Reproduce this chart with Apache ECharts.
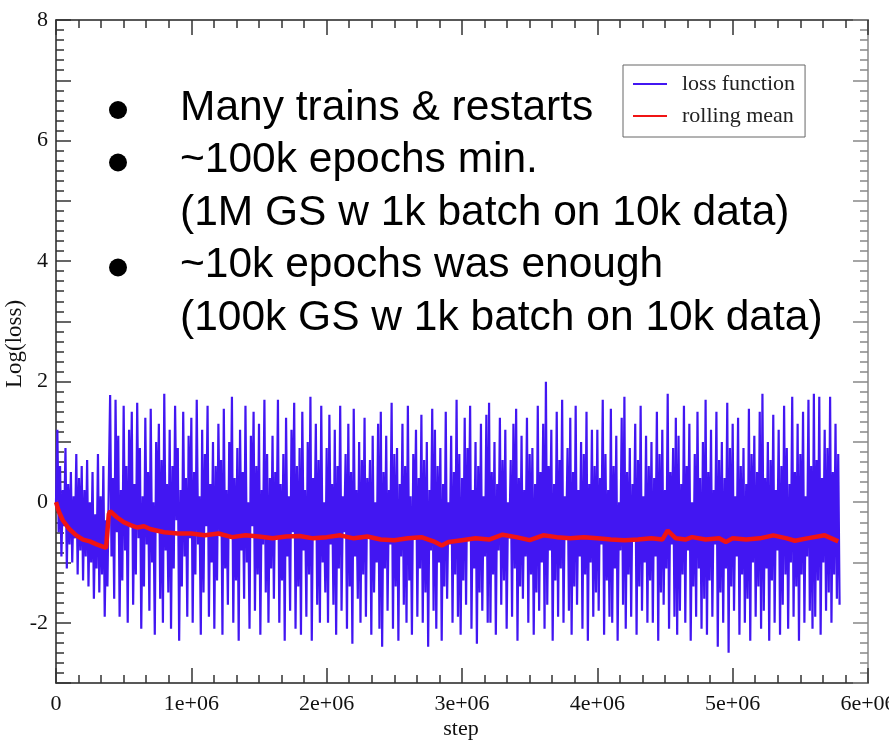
<!DOCTYPE html>
<html>
<head>
<meta charset="utf-8">
<script src="https://cdn.jsdelivr.net/npm/echarts@6/dist/echarts.min.js"></script>
<style>
html,body{margin:0;padding:0;background:#fff;overflow:hidden;}
#chart{width:889px;height:740px;}
</style>
</head>
<body>
<div id="chart"></div>
<script>
// ---- data ----
const lossStepSize = 10000; // steps between consecutive loss samples
const lossValues = [
  0.0, 1.2, -0.5, 0.6, -0.9, 0.2, -0.4, 0.9, -1.1, 0.3, -0.7, 0.5, -1.0, 0.1, -0.6, 0.8, -1.2, 0.4, -0.8, 0.6,
  -1.3, 0.2, -0.9, 0.7, -1.4, 0.0, -1.0, 0.5, -1.6, -0.2, -1.1, 0.8, -1.5, 0.1, -1.2, 0.6, -1.9, -0.3, -1.4, 0.3,
  1.78, -0.9, 0.4, -1.6, 1.7, -0.5, 1.1, -1.9, 0.2, -1.3, 1.6, -0.8, 0.6, -2.0, 1.2, -0.4, 1.5, -1.7, 0.3, -1.2,
  1.65, -0.6, 0.9, -2.1, 0.1, -1.4, 1.4, -0.7, 0.5, -1.8, 1.55, -1.0, 0.0, -2.2, 1.0, -0.5, 1.3, -1.6, 0.7, -2.0,
  1.8, -0.8, 0.3, -1.5, 1.2, -2.1, 0.6, -1.1, 1.6, -0.3, 0.9, -2.3, 0.2, -1.4, 1.5, -0.9, 0.4, -1.9, 1.1, -0.6,
  1.4, -2.0, 0.5, -1.2, 1.7, -0.7, 0.1, -2.2, 1.2, -1.5, 0.8, -0.4, 1.6, -1.9, 0.3, -1.0, 1.0, -2.1, 0.6, -1.3,
  1.3, -0.5, 0.7, -2.2, 1.55, -1.1, 0.2, -1.7, 1.0, -0.6, 1.75, -2.0, 0.4, -1.3, 0.9, -2.3, 1.2, -0.8, 0.5, -1.6,
  1.6, -1.0, 0.0, -2.1, 1.1, -0.4, 1.5, -1.8, 0.6, -1.2, 1.3, -2.2, 0.2, -0.7, 1.7, -1.5, 0.8, -2.0, 0.4, -1.1,
  1.1, -1.6, 0.5, -0.6, 1.7, -2.0, 0.3, -1.3, 0.8, -2.3, 1.4, -0.9, 0.1, -1.8, 1.2, -0.5, 1.65, -2.1, 0.6, -1.4,
  0.9, -2.2, 1.5, -0.8, 0.2, -1.9, 1.0, -1.2, 1.75, -2.3, 0.4, -0.6, 1.3, -1.7, 0.7, -2.0, 1.6, -1.0, 0.0, -1.5,
  0.9, -2.0, 1.45, -0.7, 0.3, -1.7, 1.2, -2.2, 0.6, -1.1, 1.6, -1.8, 0.1, -0.5, 0.8, -2.1, 1.3, -1.4, 0.5, -2.35,
  1.55, -0.9, 0.2, -1.6, 1.0, -2.0, 0.7, -1.2, 1.4, -1.9, 0.4, -0.6, 0.7, -2.2, 1.1, -1.5, 0.0, -1.0, 1.3, -2.1,
  1.5, -2.4, 0.5, -1.1, 1.1, -1.8, 0.2, -0.7, 1.65, -2.1, 0.8, -1.4, 0.9, -2.3, 0.3, -0.9, 1.3, -1.7, 0.6, -2.0,
  1.6, -1.3, 0.1, -2.2, 0.8, -0.6, 1.2, -1.9, 0.4, -1.1, 1.45, -2.0, 0.7, -1.5, 1.0, -2.4, 0.2, -0.8, 1.55, -1.8,
  1.2, -2.1, 0.6, -1.0, 0.9, -2.3, 0.3, -1.4, 1.5, -1.6, 0.0, -0.7, 1.1, -2.0, 0.5, -1.2, 1.7, -1.9, 0.8, -2.2,
  0.4, -1.3, 1.4, -1.7, 0.9, -0.6, 1.6, -2.1, 0.2, -1.1, 1.0, -2.35, 0.6, -1.5, 1.3, -1.8, 0.1, -0.9, 1.45, -2.0,
  1.65, -2.0, 0.5, -1.2, 1.0, -2.2, 0.3, -0.8, 1.4, -1.7, 0.7, -1.3, 1.2, -2.1, 0.0, -0.6, 0.7, -1.9, 1.3, -1.1,
  1.55, -2.3, 0.4, -1.4, 1.1, -1.6, 0.2, -0.9, 1.4, -2.0, 0.8, -1.2, 0.9, -2.2, 0.3, -1.5, 1.6, -1.8, 0.5, -1.0,
  1.3, -2.1, 2.0, -1.7, 0.6, -0.8, 1.2, -2.3, 0.3, -1.3, 1.5, -1.9, 0.7, -1.1, 1.7, -2.0, 0.1, -0.6, 0.9, -1.8,
  1.4, -2.2, 0.5, -1.4, 1.6, -1.7, 0.2, -0.9, 1.0, -2.1, 0.8, -1.2, 1.5, -2.3, 0.3, -1.0, 1.2, -1.9, 0.6, -1.5,
  1.2, -1.8, 0.4, -0.7, 1.7, -2.2, 0.8, -1.3, 0.2, -1.9, 1.55, -2.0, 0.6, -1.1, 1.1, -2.3, 0.0, -0.8, 1.4, -1.7,
  1.75, -2.1, 0.5, -1.2, 0.9, -1.9, 0.3, -0.6, 1.3, -2.2, 0.7, -1.4, 1.6, -1.8, 0.1, -1.0, 1.1, -2.0, 0.6, -1.3,
  1.0, -2.0, 0.4, -0.9, 1.5, -2.3, 0.8, -1.5, 1.2, -1.7, 0.2, -1.1, 1.8, -2.1, 0.5, -0.7, 0.9, -1.9, 1.4, -2.2,
  1.1, -1.8, 0.3, -1.2, 1.6, -2.0, 0.6, -0.8, 1.3, -2.3, 0.0, -1.4, 0.8, -1.9, 1.5, -1.1, 0.4, -2.1, 1.0, -1.6,
  1.7, -2.2, 0.5, -1.3, 1.2, -1.9, 0.2, -0.7, 1.5, -2.4, 0.7, -1.5, 1.0, -2.0, 0.4, -1.1, 1.65, -2.5, 0.9, -1.4,
  1.3, -1.8, 0.1, -0.9, 1.4, -2.2, 0.6, -1.2, 0.9, -2.0, 0.3, -1.6, 1.55, -2.3, 0.8, -1.0, 1.1, -1.9, 0.5, -1.4,
  1.5, -2.1, 1.8, -1.8, 0.4, -1.1, 1.0, -2.3, 0.7, -1.3, 1.45, -2.0, 0.2, -0.8, 1.2, -2.2, 0.6, -1.7, 1.6, -1.2,
  0.9, -2.1, 0.3, -1.0, 1.75, -1.9, 0.5, -1.4, 1.3, -2.3, 0.8, -1.2, 1.5, -2.0, 0.1, -0.9, 1.7, -1.8, 0.6, -2.1,
  1.8, -1.9, 0.7, -1.3, 1.75, -2.2, 0.4, -1.0, 1.2, -1.8, 0.9, -1.5, 1.75, -2.0, 0.5, -1.2, 1.3, -1.6, 0.8, -1.7
];

const meanSteps = [
  0, 20000, 50000, 100000, 150000, 200000, 250000, 300000, 350000, 370000, 390000, 400000,
  450000, 500000, 550000, 600000, 650000, 700000, 800000, 900000, 1000000, 1100000, 1200000,
  1300000, 1400000, 1500000, 1600000, 1700000, 1800000, 1900000, 2000000, 2100000, 2200000,
  2300000, 2400000, 2500000, 2600000, 2700000, 2800000, 2850000, 2900000, 3000000, 3100000,
  3200000, 3300000, 3400000, 3500000, 3600000, 3700000, 3800000, 3900000, 4000000, 4100000,
  4200000, 4300000, 4400000, 4480000, 4520000, 4580000, 4650000, 4700000, 4800000, 4900000,
  4950000, 5000000, 5100000, 5200000, 5300000, 5400000, 5460000, 5550000, 5680000, 5780000
];
const meanValues = [
  0.0, -0.15, -0.3, -0.45, -0.55, -0.62, -0.65, -0.7, -0.74, -0.76, -0.2, -0.15,
  -0.25, -0.33, -0.38, -0.42, -0.4, -0.45, -0.5, -0.52, -0.52, -0.55, -0.52,
  -0.58, -0.55, -0.57, -0.6, -0.57, -0.56, -0.6, -0.58, -0.55, -0.6,
  -0.57, -0.62, -0.63, -0.6, -0.58, -0.66, -0.72, -0.66, -0.63, -0.6,
  -0.62, -0.54, -0.58, -0.63, -0.55, -0.58, -0.6, -0.58, -0.6, -0.62,
  -0.63, -0.62, -0.6, -0.62, -0.47, -0.6, -0.62, -0.58, -0.62, -0.6,
  -0.66, -0.6, -0.62, -0.6, -0.55, -0.6, -0.64, -0.6, -0.55, -0.65
];

const xTickLabels = ['0', '1e+06', '2e+06', '3e+06', '4e+06', '5e+06', '6e+06'];
const yTickLabels = ['-2', '0', '2', '4', '6', '8'];
const seriesNames = ['loss function', 'rolling mean'];
const bulletLines = [
  'Many trains & restarts',
  '~100k epochs min.',
  '(1M GS w 1k batch on 10k data)',
  '~10k epochs was enough',
  '(100k GS w 1k batch on 10k data)'
];
const bulletFlags = [true, true, false, true, false];

// ---- build ----
const lossData = lossValues.map((v, i) => [i * lossStepSize, v]);
const meanData = meanSteps.map((s, i) => [s, meanValues[i]]);

const serif = '"Liberation Serif", "DejaVu Serif", serif';
const sans = '"Liberation Sans", Arial, sans-serif';

function xLabel(v) {
  const idx = Math.round(v / 1000000);
  return xTickLabels[idx] !== undefined ? xTickLabels[idx] : '';
}
function yLabel(v) {
  const s = String(v);
  return yTickLabels.indexOf(s) >= 0 ? s : '';
}

const axisCommon = {
  axisLine: { show: true, onZero: false, lineStyle: { color: '#222', width: 1.5 } },
  axisTick: { show: true, inside: true, length: 15, lineStyle: { color: '#333', width: 1.5 } },
  minorTick: { show: true, splitNumber: 6, length: 8, lineStyle: { color: '#333', width: 1.5 } },
  splitLine: { show: false }
};

const lineHeight = 52.5;
const firstCenter = 108;
const graphic = [];
bulletLines.forEach((t, i) => {
  const cy = firstCenter + i * lineHeight;
  graphic.push({
    type: 'text', x: 180, y: cy, z: 100,
    style: { text: t, font: '42.5px ' + sans, fill: '#000', align: 'left', verticalAlign: 'middle' }
  });
  if (bulletFlags[i]) {
    graphic.push({ type: 'circle', shape: { cx: 118, cy: cy + 2, r: 9 }, style: { fill: '#000' }, z: 100 });
  }
});
graphic.push({
  type: 'text', x: 15, y: 344, rotation: Math.PI / 2,
  style: { text: 'Log(loss)', font: '23px ' + serif, fill: '#111', align: 'center', verticalAlign: 'middle' }
});
graphic.push({
  type: 'text', x: 461, y: 729,
  style: { text: 'step', font: '22px ' + serif, fill: '#111', align: 'center', verticalAlign: 'middle' }
});

const chart = echarts.init(document.getElementById('chart'), null, { renderer: 'canvas', width: 889, height: 740 });
chart.setOption({
  animation: false,
  backgroundColor: '#fff',
  grid: { left: 56, right: 21, top: 20, bottom: 57, containLabel: false, outerBoundsMode: 'none' },
  legend: {
    left: 623, top: 65, orient: 'vertical',
    data: seriesNames.map(n => ({ name: n, icon: 'rect' })),
    backgroundColor: '#fff',
    borderColor: '#666', borderWidth: 1,
    padding: [8, 10, 10, 10],
    itemWidth: 34, itemHeight: 2, itemGap: 10,
    textStyle: { fontFamily: serif, fontSize: 22, color: '#222', padding: [0, 0, 0, 10] }
  },
  xAxis: [
    Object.assign({}, axisCommon, {
      type: 'value', min: 0, max: 6000000, interval: 1000000, position: 'bottom',
      axisLabel: { show: true, formatter: xLabel, fontFamily: serif, fontSize: 22, color: '#111', margin: 10, showMaxLabel: true, hideOverlap: false }
    }),
    Object.assign({}, axisCommon, {
      type: 'value', min: 0, max: 6000000, interval: 1000000, position: 'top',
      axisLabel: { show: false }
    })
  ],
  yAxis: [
    Object.assign({}, axisCommon, {
      type: 'value', min: -3, max: 8, interval: 1, position: 'left',
      axisLabel: { show: true, formatter: yLabel, fontFamily: serif, fontSize: 22, color: '#111', margin: 8 }
    }),
    Object.assign({}, axisCommon, {
      type: 'value', min: -3, max: 8, interval: 1, position: 'right',
      axisLine: { show: true, onZero: false, lineStyle: { color: '#888', width: 1.5 } },
      axisTick: { show: true, inside: true, length: 15, lineStyle: { color: '#888', width: 1.5 } },
      minorTick: { show: true, splitNumber: 6, length: 8, lineStyle: { color: '#888', width: 1.5 } },
      axisLabel: { show: false }
    })
  ],
  series: [
    {
      name: seriesNames[0], type: 'line', data: lossData, showSymbol: false, symbol: 'none',
      lineStyle: { color: '#4216f2', width: 2.2 }, itemStyle: { color: '#4216f2' }, z: 2
    },
    {
      name: seriesNames[1], type: 'line', data: meanData, showSymbol: false, symbol: 'none',
      lineStyle: { color: '#f01414', width: 4.5 }, itemStyle: { color: '#f01414' }, z: 3
    }
  ],
  graphic: graphic
});
</script>
</body>
</html>
